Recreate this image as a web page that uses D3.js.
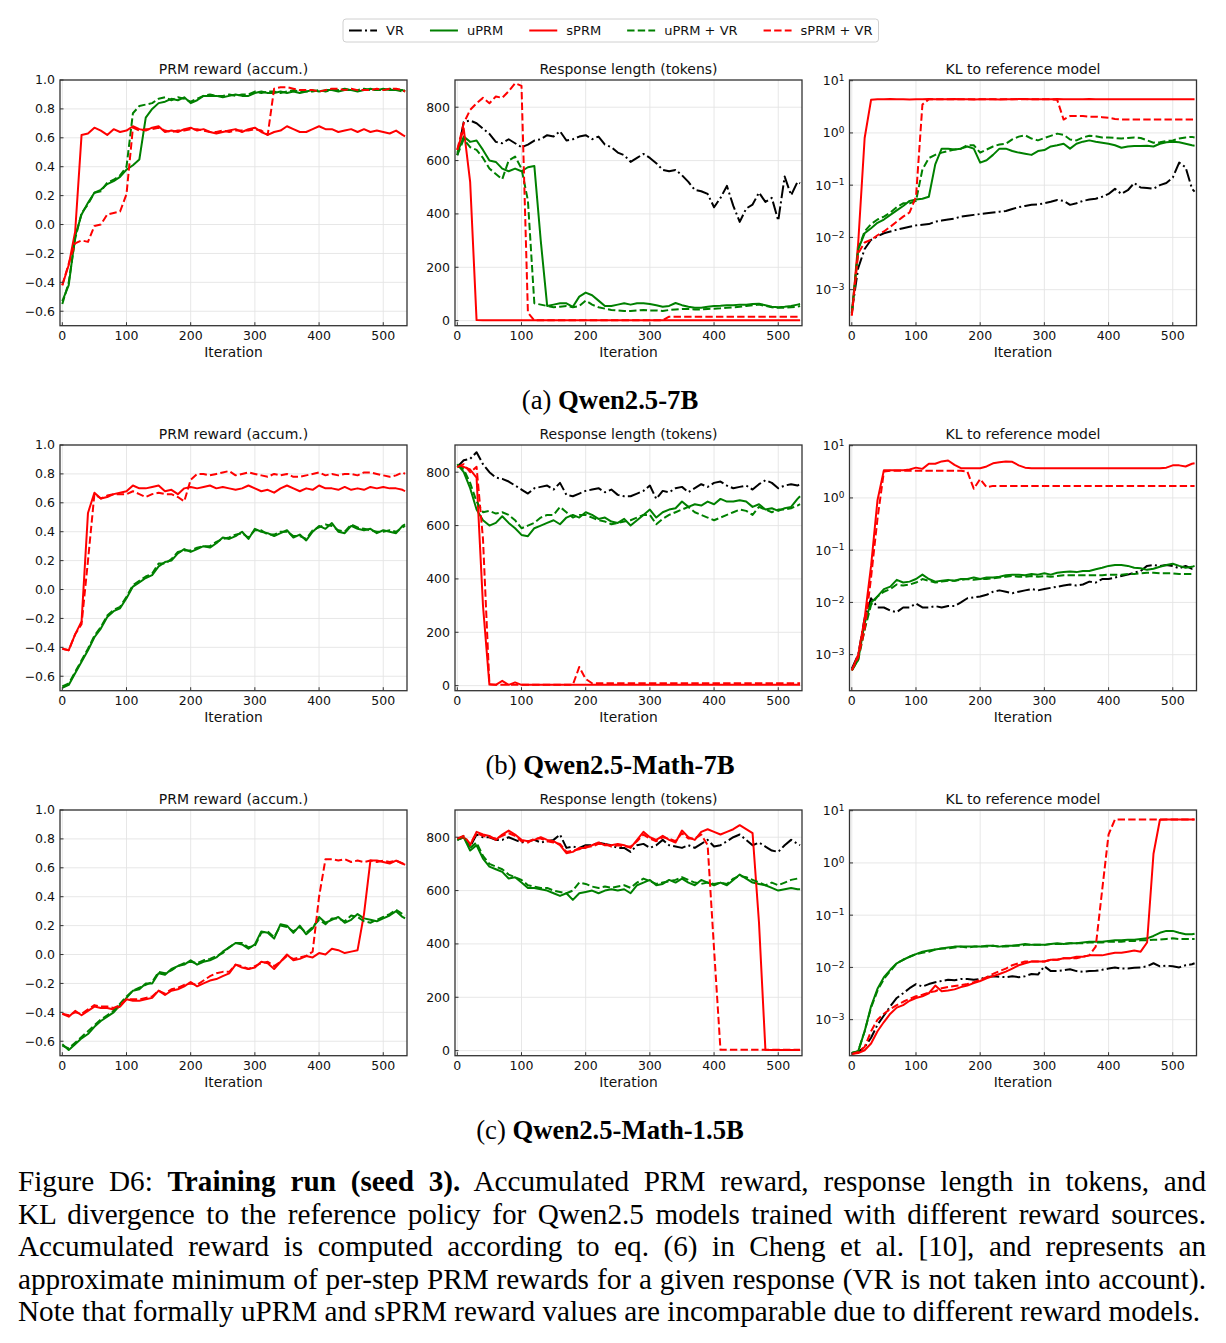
<!DOCTYPE html>
<html>
<head>
<meta charset="utf-8">
<script src="https://cdn.jsdelivr.net/npm/d3@7"></script>
<style>
  body { margin: 0; background: #fff; }
  #fig { position: relative; width: 1226px; height: 1343px; }
  svg text { font-family: "DejaVu Sans", sans-serif; fill: #111; }
  .cap {
    position: absolute; left: 18px; width: 1188px;
    font-family: "Liberation Serif", "Times New Roman", serif;
    font-size: 29.2px; line-height: 32.5px; color: #000;
    text-align: justify; text-align-last: justify;
  }
  .cap.last { text-align-last: left; }
</style>
</head>
<body>
<div id="fig"></div>
<script>
// iteration grid the values were read at
const iters = [0, 10, 20, 30, 40, 50, 60, 70, 80, 90,
  100, 110, 120, 130, 140, 150, 160, 170, 180, 190,
  200, 210, 220, 230, 240, 250, 260, 270, 280, 290,
  300, 310, 320, 330, 340, 350, 360, 370, 380, 390,
  400, 410, 420, 430, 440, 450, 460, 470, 480, 490,
  500, 510, 520, 530, 534];

const seriesNames = ['VR', 'uPRM', 'sPRM', 'uPRM + VR', 'sPRM + VR'];
const rowLabels = ['Qwen2.5-7B', 'Qwen2.5-Math-7B', 'Qwen2.5-Math-1.5B'];
const rowTags = ['(a) ', '(b) ', '(c) '];
const panelTitles = ['PRM reward (accum.)', 'Response length (tokens)', 'KL to reference model'];
const xTicks = [0, 100, 200, 300, 400, 500];
const rewardTicks = [-0.6, -0.4, -0.2, 0.0, 0.2, 0.4, 0.6, 0.8, 1.0];
const lengthTicks = [0, 200, 400, 600, 800];
const klTicks = [-3, -2, -1, 0, 1];

// ---- (a) Qwen2.5-7B ----
const rewA_u = [-0.53, -0.42, -0.08, 0.07, 0.15, 0.22, 0.24, 0.28, 0.30, 0.33,
  0.38, 0.41, 0.45, 0.74, 0.80, 0.84, 0.85, 0.87, 0.86, 0.88,
  0.84, 0.86, 0.89, 0.89, 0.89, 0.88, 0.89, 0.90, 0.89, 0.89,
  0.91, 0.92, 0.91, 0.91, 0.92, 0.91, 0.92, 0.91, 0.92, 0.93,
  0.92, 0.93, 0.93, 0.92, 0.93, 0.93, 0.92, 0.93, 0.94, 0.93,
  0.94, 0.93, 0.93, 0.93, 0.92];
const rewA_s = [-0.42, -0.28, -0.05, 0.62, 0.63, 0.67, 0.65, 0.62, 0.66, 0.64,
  0.65, 0.68, 0.66, 0.65, 0.67, 0.68, 0.64, 0.65, 0.64, 0.66,
  0.67, 0.65, 0.66, 0.64, 0.63, 0.64, 0.65, 0.66, 0.64, 0.66,
  0.67, 0.64, 0.62, 0.64, 0.65, 0.68, 0.66, 0.64, 0.64, 0.66,
  0.68, 0.66, 0.66, 0.64, 0.65, 0.66, 0.64, 0.66, 0.64, 0.65,
  0.64, 0.63, 0.65, 0.62, 0.61];
const rewA_uv = [-0.55, -0.40, -0.10, 0.08, 0.14, 0.22, 0.23, 0.29, 0.31, 0.34,
  0.40, 0.77, 0.82, 0.83, 0.84, 0.87, 0.88, 0.86, 0.88, 0.87,
  0.85, 0.87, 0.89, 0.90, 0.89, 0.89, 0.90, 0.89, 0.90, 0.90,
  0.92, 0.91, 0.92, 0.92, 0.91, 0.92, 0.93, 0.92, 0.92, 0.92,
  0.93, 0.92, 0.93, 0.93, 0.94, 0.93, 0.93, 0.94, 0.93, 0.93,
  0.93, 0.94, 0.93, 0.92, 0.93];
const rewA_sv = [-0.42, -0.27, -0.13, -0.11, -0.12, -0.01, 0.00, 0.07, 0.08, 0.09,
  0.21, 0.67, 0.65, 0.66, 0.66, 0.67, 0.65, 0.64, 0.65, 0.65,
  0.66, 0.66, 0.65, 0.64, 0.64, 0.65, 0.64, 0.65, 0.65, 0.65,
  0.66, 0.65, 0.62, 0.94, 0.95, 0.95, 0.94, 0.93, 0.93, 0.93,
  0.92, 0.93, 0.94, 0.94, 0.93, 0.94, 0.93, 0.93, 0.93, 0.94,
  0.93, 0.94, 0.94, 0.93, 0.92];

const lenA_vr = [620, 745, 750, 740, 720, 700, 670, 665, 680, 665,
  650, 660, 675, 680, 695, 690, 710, 675, 680, 690,
  695, 680, 690, 660, 650, 630, 620, 595, 610, 625,
  610, 590, 565, 560, 565, 545, 520, 490, 485, 475,
  425, 460, 505, 430, 370, 420, 435, 480, 445, 460,
  375, 540, 470, 520, 515];
const lenA_u = [630, 690, 670, 675, 640, 600, 595, 570, 560, 570,
  560, 575, 580, 300, 55, 60, 65, 65, 52, 90,
  105, 95, 75, 55, 55, 60, 65, 60, 65, 65,
  62, 58, 52, 55, 66, 58, 52, 48, 48, 52,
  55, 56, 58, 58, 60, 60, 62, 63, 58, 52,
  50, 52, 55, 60, 62];
const lenA_s = [640, 720, 520, 2, 1, 1, 1, 1, 1, 1,
  1, 1, 1, 1, 1, 1, 1, 1, 1, 1,
  1, 1, 1, 1, 1, 1, 1, 1, 1, 1,
  1, 1, 1, 1, 1, 1, 1, 1, 1, 1,
  1, 1, 1, 1, 1, 1, 1, 1, 1, 1,
  1, 1, 1, 1, 1];
const lenA_uv = [620, 680, 650, 640, 610, 570, 550, 530, 600, 615,
  570, 450, 65, 60, 55, 50, 52, 55, 50, 55,
  75, 60, 50, 45, 40, 38, 36, 36, 38, 40,
  38, 38, 36, 40, 42, 44, 44, 42, 42, 44,
  45, 46, 48, 50, 52, 55, 58, 60, 55, 50,
  48, 48, 50, 52, 55];
const lenA_sv = [640, 740, 790, 815, 835, 815, 840, 835, 860, 890,
  880, 30, 1, 1, 1, 1, 1, 1, 1, 1,
  1, 1, 1, 1, 1, 1, 1, 1, 1, 1,
  1, 1, 1, 15, 15, 15, 15, 15, 15, 15,
  15, 15, 15, 15, 15, 15, 15, 15, 15, 15,
  15, 15, 15, 15, 15];

const klA_vr = [3.8e-4, 2.6e-3, 6e-3, 9e-3, 0.0105, 0.012, 0.013, 0.014, 0.015, 0.016,
  0.017, 0.0175, 0.018, 0.020, 0.021, 0.022, 0.023, 0.025, 0.026, 0.027,
  0.028, 0.029, 0.030, 0.031, 0.032, 0.035, 0.038, 0.040, 0.042, 0.043,
  0.045, 0.048, 0.052, 0.050, 0.042, 0.045, 0.050, 0.053, 0.055, 0.060,
  0.068, 0.085, 0.068, 0.080, 0.11, 0.09, 0.088, 0.085, 0.10, 0.11,
  0.14, 0.27, 0.22, 0.085, 0.075];
const klA_u = [3.5e-4, 6e-3, 0.012, 0.015, 0.019, 0.022, 0.027, 0.033, 0.040, 0.050,
  0.053, 0.055, 0.060, 0.25, 0.50, 0.50, 0.48, 0.50, 0.55, 0.50,
  0.27, 0.30, 0.38, 0.50, 0.50, 0.45, 0.42, 0.40, 0.38, 0.45,
  0.47, 0.55, 0.58, 0.62, 0.50, 0.62, 0.68, 0.72, 0.68, 0.65,
  0.62, 0.58, 0.52, 0.55, 0.56, 0.56, 0.57, 0.55, 0.62, 0.66,
  0.68, 0.66, 0.62, 0.58, 0.57];
const klA_s = [3.2e-4, 0.008, 0.8, 4.3, 4.4, 4.4, 4.45, 4.4, 4.4, 4.35,
  4.4, 4.4, 4.45, 4.4, 4.4, 4.4, 4.45, 4.4, 4.4, 4.35,
  4.4, 4.4, 4.4, 4.35, 4.4, 4.4, 4.45, 4.45, 4.4, 4.4,
  4.4, 4.4, 4.45, 4.4, 4.4, 4.4, 4.4, 4.45, 4.4, 4.4,
  4.4, 4.4, 4.4, 4.4, 4.4, 4.4, 4.4, 4.4, 4.4, 4.4,
  4.4, 4.4, 4.4, 4.4, 4.4];
const klA_uv = [3.5e-4, 6e-3, 0.013, 0.018, 0.022, 0.025, 0.030, 0.038, 0.045, 0.045,
  0.050, 0.20, 0.33, 0.38, 0.42, 0.45, 0.48, 0.50, 0.58, 0.58,
  0.42, 0.48, 0.55, 0.60, 0.62, 0.75, 0.85, 0.90, 0.78, 0.72,
  0.80, 0.88, 0.97, 0.92, 0.75, 0.72, 0.82, 0.88, 0.86, 0.82,
  0.82, 0.80, 0.78, 0.80, 0.82, 0.80, 0.72, 0.65, 0.66, 0.70,
  0.72, 0.78, 0.82, 0.84, 0.82];
const klA_sv = [3.2e-4, 5e-3, 0.008, 0.009, 0.011, 0.013, 0.016, 0.020, 0.025, 0.030,
  0.060, 3.5, 4.4, 4.4, 4.4, 4.4, 4.4, 4.4, 4.4, 4.4,
  4.4, 4.4, 4.4, 4.4, 4.4, 4.4, 4.4, 4.4, 4.4, 4.4,
  4.4, 4.4, 4.3, 1.8, 2.1, 2.1, 2.1, 2.05, 2.05, 2.0,
  1.95, 1.85, 1.8, 1.8, 1.8, 1.8, 1.8, 1.8, 1.8, 1.8,
  1.8, 1.8, 1.8, 1.8, 1.8];

// ---- (b) Qwen2.5-Math-7B ----
const rewB_u = [-0.68, -0.66, -0.58, -0.50, -0.42, -0.33, -0.27, -0.19, -0.15, -0.13,
  -0.06, 0.02, 0.05, 0.08, 0.10, 0.16, 0.19, 0.20, 0.25, 0.28,
  0.26, 0.28, 0.30, 0.29, 0.32, 0.36, 0.35, 0.37, 0.40, 0.35,
  0.42, 0.40, 0.39, 0.37, 0.39, 0.41, 0.36, 0.38, 0.34, 0.40,
  0.44, 0.42, 0.46, 0.40, 0.39, 0.44, 0.42, 0.41, 0.42, 0.39,
  0.41, 0.40, 0.39, 0.44, 0.45];
const rewB_s = [-0.41, -0.42, -0.31, -0.22, 0.53, 0.67, 0.63, 0.64, 0.66, 0.67,
  0.68, 0.72, 0.70, 0.70, 0.71, 0.72, 0.68, 0.69, 0.66, 0.70,
  0.71, 0.70, 0.71, 0.72, 0.70, 0.71, 0.70, 0.69, 0.70, 0.72,
  0.70, 0.68, 0.69, 0.67, 0.70, 0.72, 0.70, 0.68, 0.70, 0.69,
  0.72, 0.70, 0.70, 0.69, 0.71, 0.69, 0.70, 0.69, 0.71, 0.70,
  0.71, 0.70, 0.70, 0.69, 0.68];
const rewB_uv = [-0.67, -0.65, -0.57, -0.49, -0.41, -0.32, -0.26, -0.18, -0.14, -0.12,
  -0.05, 0.03, 0.06, 0.09, 0.11, 0.18, 0.18, 0.21, 0.26, 0.27,
  0.27, 0.29, 0.30, 0.30, 0.33, 0.35, 0.36, 0.38, 0.39, 0.36,
  0.41, 0.41, 0.38, 0.38, 0.40, 0.40, 0.37, 0.37, 0.35, 0.41,
  0.43, 0.45, 0.44, 0.41, 0.40, 0.45, 0.43, 0.42, 0.41, 0.40,
  0.40, 0.41, 0.40, 0.43, 0.44];
const rewB_sv = [-0.41, -0.42, -0.31, -0.24, 0.20, 0.66, 0.63, 0.65, 0.66, 0.66,
  0.66, 0.68, 0.66, 0.64, 0.66, 0.67, 0.66, 0.66, 0.64, 0.61,
  0.76, 0.80, 0.80, 0.79, 0.80, 0.81, 0.82, 0.79, 0.80, 0.81,
  0.80, 0.79, 0.78, 0.80, 0.79, 0.80, 0.78, 0.78, 0.79, 0.80,
  0.81, 0.79, 0.80, 0.79, 0.80, 0.80, 0.79, 0.81, 0.81, 0.80,
  0.79, 0.78, 0.79, 0.81, 0.80];

const lenB_vr = [820, 845, 850, 875, 830, 800, 780, 775, 765, 750,
  735, 720, 740, 745, 750, 735, 760, 715, 710, 720,
  730, 735, 740, 725, 735, 715, 710, 710, 720, 730,
  750, 700, 730, 725, 740, 745, 725, 740, 755, 745,
  760, 765, 750, 740, 745, 750, 735, 755, 770, 760,
  740, 750, 755, 750, 755];
const lenB_u = [830, 800, 740, 660, 620, 600, 610, 635, 610, 590,
  565, 560, 590, 600, 610, 620, 605, 630, 640, 630,
  650, 640, 625, 630, 615, 610, 625, 600, 620, 640,
  660, 630, 650, 660, 665, 690, 670, 680, 675, 690,
  680, 700, 690, 690, 695, 690, 670, 680, 660, 665,
  655, 665, 670, 700, 710];
const lenB_s = [820, 820, 810, 780, 300, 4, 3, 18, 3, 12,
  3, 3, 3, 3, 3, 3, 3, 3, 3, 3,
  3, 3, 3, 3, 3, 3, 3, 3, 3, 3,
  3, 3, 3, 3, 3, 3, 3, 3, 3, 3,
  3, 3, 3, 3, 3, 3, 3, 3, 3, 3,
  3, 3, 3, 3, 3];
const lenB_uv = [825, 810, 760, 690, 650, 655, 645, 650, 640, 620,
  590, 600, 610, 630, 640, 640, 670, 650, 630, 640,
  640, 630, 620, 615, 605, 610, 615, 620, 630, 640,
  640, 605, 625, 640, 650, 660, 670, 650, 640, 630,
  620, 630, 640, 650, 660, 655, 640, 670, 660, 650,
  660, 660, 665, 675, 680];
const lenB_sv = [820, 830, 800, 820, 550, 5, 3, 3, 3, 3,
  3, 3, 3, 3, 3, 3, 3, 3, 3, 70,
  25, 9, 9, 9, 9, 9, 9, 9, 9, 9,
  9, 9, 9, 9, 9, 9, 9, 9, 9, 9,
  9, 9, 9, 9, 9, 9, 9, 9, 9, 9,
  9, 9, 9, 9, 9];

const klB_vr = [5.4e-4, 1e-3, 5e-3, 0.012, 0.008, 0.008, 0.007, 0.0065, 0.008, 0.008,
  0.0095, 0.008, 0.008, 0.0085, 0.008, 0.0085, 0.0085, 0.010, 0.012, 0.0125,
  0.013, 0.014, 0.016, 0.017, 0.016, 0.015, 0.016, 0.017, 0.018, 0.017,
  0.018, 0.019, 0.020, 0.021, 0.022, 0.021, 0.022, 0.025, 0.024, 0.028,
  0.028, 0.030, 0.032, 0.034, 0.037, 0.040, 0.050, 0.052, 0.050, 0.052,
  0.050, 0.045, 0.050, 0.044, 0.045];
const klB_u = [5e-4, 8e-4, 4e-3, 0.010, 0.013, 0.018, 0.020, 0.027, 0.024, 0.025,
  0.028, 0.034, 0.028, 0.025, 0.026, 0.027, 0.026, 0.028, 0.028, 0.030,
  0.028, 0.030, 0.030, 0.031, 0.033, 0.034, 0.034, 0.033, 0.035, 0.034,
  0.036, 0.034, 0.037, 0.038, 0.039, 0.038, 0.040, 0.040, 0.043, 0.046,
  0.050, 0.052, 0.052, 0.050, 0.046, 0.045, 0.042, 0.044, 0.048, 0.052,
  0.055, 0.050, 0.046, 0.048, 0.050];
const klB_s = [5e-4, 1e-3, 5e-3, 0.05, 0.9, 3.4, 3.4, 3.4, 3.4, 3.5,
  3.8, 3.6, 4.5, 4.5, 5.0, 5.2, 4.3, 3.7, 3.7, 3.7,
  3.7, 4.0, 4.6, 4.8, 5.0, 4.9, 4.2, 3.8, 3.7, 3.7,
  3.7, 3.7, 3.7, 3.7, 3.7, 3.7, 3.7, 3.7, 3.7, 3.7,
  3.7, 3.7, 3.7, 3.7, 3.7, 3.7, 3.7, 3.7, 3.7, 3.8,
  4.2, 4.2, 4.0, 4.5, 4.6];
const klB_uv = [5e-4, 8e-4, 3e-3, 0.009, 0.013, 0.016, 0.018, 0.022, 0.021, 0.022,
  0.024, 0.028, 0.026, 0.024, 0.025, 0.026, 0.026, 0.027, 0.028, 0.027,
  0.028, 0.028, 0.029, 0.030, 0.031, 0.032, 0.031, 0.031, 0.032, 0.031,
  0.032, 0.031, 0.032, 0.033, 0.033, 0.033, 0.033, 0.033, 0.033, 0.033,
  0.034, 0.034, 0.034, 0.035, 0.035, 0.036, 0.037, 0.037, 0.036, 0.036,
  0.036, 0.035, 0.035, 0.035, 0.035];
const klB_sv = [5e-4, 9e-4, 3e-3, 0.03, 0.4, 3.2, 3.3, 3.3, 3.3, 3.3,
  3.3, 3.3, 3.3, 3.3, 3.3, 3.3, 3.3, 3.3, 3.2, 1.5,
  2.3, 1.6, 1.7, 1.7, 1.7, 1.7, 1.7, 1.7, 1.7, 1.7,
  1.7, 1.7, 1.7, 1.7, 1.7, 1.7, 1.7, 1.7, 1.7, 1.7,
  1.7, 1.7, 1.7, 1.7, 1.7, 1.7, 1.7, 1.7, 1.7, 1.7,
  1.7, 1.7, 1.7, 1.7, 1.7];

// ---- (c) Qwen2.5-Math-1.5B ----
const rewC_u = [-0.62, -0.66, -0.62, -0.58, -0.55, -0.50, -0.46, -0.43, -0.40, -0.35,
  -0.30, -0.25, -0.24, -0.20, -0.20, -0.13, -0.14, -0.10, -0.08, -0.07,
  -0.04, -0.07, -0.05, -0.04, -0.02, 0.02, 0.05, 0.08, 0.07, 0.04,
  0.07, 0.16, 0.15, 0.11, 0.21, 0.20, 0.15, 0.20, 0.14, 0.18,
  0.26, 0.22, 0.24, 0.26, 0.22, 0.24, 0.28, 0.25, 0.24, 0.23,
  0.25, 0.27, 0.30, 0.26, 0.25];
const rewC_s = [-0.41, -0.43, -0.39, -0.42, -0.39, -0.36, -0.37, -0.37, -0.38, -0.36,
  -0.31, -0.32, -0.32, -0.31, -0.30, -0.25, -0.28, -0.25, -0.24, -0.22,
  -0.19, -0.22, -0.20, -0.18, -0.17, -0.15, -0.13, -0.07, -0.09, -0.10,
  -0.09, -0.05, -0.06, -0.10, -0.05, 0.00, -0.04, -0.03, -0.01, -0.02,
  0.01, 0.00, 0.04, 0.03, 0.01, 0.02, 0.03, 0.28, 0.65, 0.65,
  0.64, 0.63, 0.65, 0.63, 0.62];
const rewC_uv = [-0.63, -0.65, -0.61, -0.57, -0.53, -0.49, -0.45, -0.42, -0.39, -0.34,
  -0.29, -0.25, -0.23, -0.21, -0.19, -0.12, -0.13, -0.11, -0.08, -0.06,
  -0.05, -0.06, -0.04, -0.03, -0.01, 0.01, 0.05, 0.08, 0.08, 0.05,
  0.06, 0.15, 0.16, 0.12, 0.20, 0.19, 0.16, 0.19, 0.15, 0.19,
  0.24, 0.21, 0.25, 0.25, 0.23, 0.27, 0.26, 0.23, 0.22, 0.24,
  0.26, 0.28, 0.31, 0.28, 0.27];
const rewC_sv = [-0.41, -0.42, -0.40, -0.41, -0.38, -0.35, -0.36, -0.36, -0.37, -0.35,
  -0.31, -0.31, -0.31, -0.30, -0.29, -0.25, -0.27, -0.24, -0.23, -0.21,
  -0.20, -0.21, -0.18, -0.15, -0.13, -0.12, -0.12, -0.07, -0.08, -0.10,
  -0.08, -0.06, -0.05, -0.08, -0.05, -0.01, -0.03, -0.02, -0.01, 0.02,
  0.40, 0.66, 0.66, 0.65, 0.66, 0.64, 0.65, 0.64, 0.65, 0.64,
  0.65, 0.64, 0.65, 0.63, 0.62];

const lenC_vr = [790, 800, 765, 810, 800, 800, 790, 790, 800, 790,
  780, 785, 790, 780, 785, 790, 810, 760, 765, 760,
  770, 770, 780, 775, 770, 760, 760, 745, 770, 775,
  760, 770, 790, 770, 765, 760, 770, 760, 775, 790,
  765, 770, 785, 800, 810, 790, 770, 780, 765, 750,
  745, 770, 790, 775, 770];
const lenC_u = [790, 800, 750, 770, 720, 690, 680, 670, 645, 650,
  630, 610, 610, 605, 600, 590, 580, 590, 565, 590,
  595, 600, 590, 600, 605, 600, 605, 590, 620, 630,
  640, 620, 625, 640, 630, 645, 630, 620, 640, 630,
  620, 630, 620, 640, 660, 645, 630, 625, 620, 610,
  600, 605, 610, 605, 605];
const lenC_s = [795, 800, 770, 820, 810, 805, 790, 810, 825, 810,
  790, 785, 790, 800, 790, 785, 770, 740, 745, 760,
  760, 770, 780, 770, 770, 775, 770, 760, 790, 820,
  800, 790, 805, 790, 780, 825, 800, 790, 820, 830,
  820, 810, 820, 830, 845, 830, 815, 480, 3, 2,
  2, 2, 2, 2, 2];
const lenC_uv = [790, 805, 760, 780, 730, 700, 690, 680, 660, 650,
  640, 620, 615, 610, 610, 600, 595, 590, 600, 630,
  625, 615, 610, 615, 610, 615, 620, 610, 630, 645,
  635, 625, 630, 635, 640, 650, 640, 630, 625, 630,
  625, 630, 625, 645, 655, 650, 640, 630, 620, 630,
  620, 630, 640, 645, 640];
const lenC_sv = [795, 805, 775, 815, 805, 800, 795, 805, 815, 805,
  785, 780, 795, 795, 785, 780, 775, 745, 750, 755,
  765, 765, 775, 775, 765, 770, 765, 765, 785, 810,
  795, 785, 800, 795, 785, 815, 795, 795, 810, 770,
  380, 3, 3, 3, 3, 3, 3, 3, 3, 3,
  3, 3, 3, 3, 3];

const klC_vr = [2.3e-4, 2.4e-4, 3e-4, 4.5e-4, 8e-4, 1.2e-3, 1.8e-3, 2.6e-3, 3.2e-3, 4e-3,
  4.8e-3, 4.3e-3, 4.8e-3, 5.2e-3, 5.5e-3, 5.8e-3, 5.7e-3, 6e-3, 6e-3, 5.8e-3,
  6e-3, 6.5e-3, 6.8e-3, 6.6e-3, 6.5e-3, 6.8e-3, 6.5e-3, 6.8e-3, 7.5e-3, 7.3e-3,
  0.0105, 8.5e-3, 8.5e-3, 8.8e-3, 9.2e-3, 8.5e-3, 8.2e-3, 8.5e-3, 8.6e-3, 9e-3,
  9.5e-3, 0.010, 9.5e-3, 9.5e-3, 9.8e-3, 0.010, 0.0105, 0.012, 0.0105, 0.0108,
  0.0105, 0.010, 0.011, 0.0115, 0.012];
const klC_u = [2.3e-4, 2.5e-4, 6e-4, 1.8e-3, 3.9e-3, 6.5e-3, 9e-3, 0.012, 0.014, 0.016,
  0.018, 0.020, 0.021, 0.022, 0.023, 0.024, 0.025, 0.025, 0.025, 0.025,
  0.025, 0.026, 0.026, 0.025, 0.026, 0.026, 0.027, 0.028, 0.027, 0.027,
  0.027, 0.028, 0.029, 0.028, 0.029, 0.029, 0.030, 0.031, 0.031, 0.031,
  0.032, 0.033, 0.033, 0.034, 0.034, 0.035, 0.036, 0.040, 0.046, 0.050,
  0.050, 0.046, 0.043, 0.043, 0.044];
const klC_s = [2.2e-4, 2.3e-4, 2.6e-4, 3.5e-4, 6e-4, 9e-4, 1.3e-3, 1.7e-3, 1.9e-3, 2.3e-3,
  2.6e-3, 2.8e-3, 3.2e-3, 4.5e-3, 3.5e-3, 3.6e-3, 3.8e-3, 4.2e-3, 4.5e-3, 5e-3,
  5.5e-3, 6.2e-3, 6.8e-3, 7.5e-3, 8.3e-3, 9.5e-3, 0.011, 0.012, 0.013, 0.013,
  0.013, 0.014, 0.014, 0.015, 0.015, 0.016, 0.016, 0.017, 0.017, 0.017,
  0.018, 0.019, 0.019, 0.020, 0.021, 0.020, 0.030, 1.5, 6.7, 6.8,
  6.8, 6.8, 6.8, 6.8, 6.8];
const klC_uv = [2.3e-4, 2.5e-4, 6e-4, 1.7e-3, 3.6e-3, 6e-3, 8.5e-3, 0.012, 0.014, 0.016,
  0.018, 0.019, 0.020, 0.022, 0.023, 0.023, 0.024, 0.025, 0.024, 0.025,
  0.025, 0.025, 0.026, 0.025, 0.025, 0.026, 0.026, 0.027, 0.027, 0.027,
  0.027, 0.028, 0.028, 0.028, 0.029, 0.029, 0.029, 0.030, 0.030, 0.030,
  0.031, 0.031, 0.031, 0.032, 0.032, 0.033, 0.033, 0.034, 0.034, 0.035,
  0.036, 0.035, 0.035, 0.035, 0.035];
const klC_sv = [2.2e-4, 2.4e-4, 3e-4, 6e-4, 1e-3, 1.3e-3, 1.6e-3, 1.9e-3, 2.2e-3, 2.5e-3,
  2.8e-3, 3e-3, 3.3e-3, 3.5e-3, 4e-3, 4.2e-3, 4.4e-3, 4.6e-3, 4.8e-3, 5.2e-3,
  5.8e-3, 6.5e-3, 7.5e-3, 8.5e-3, 9.5e-3, 0.011, 0.012, 0.013, 0.013, 0.013,
  0.013, 0.014, 0.014, 0.015, 0.015, 0.015, 0.016, 0.017, 0.025, 0.30,
  3.5, 6.8, 6.8, 6.8, 6.8, 6.8, 6.8, 6.8, 6.8, 6.8,
  6.8, 6.8, 6.8, 6.8, 6.8];

// rows of panels: [reward, length, kl], each a list of series in plotting order
const rows = [
  [
    {'uPRM': rewA_u, 'sPRM': rewA_s, 'uPRM + VR': rewA_uv, 'sPRM + VR': rewA_sv},
    {'VR': lenA_vr, 'uPRM': lenA_u, 'sPRM': lenA_s, 'uPRM + VR': lenA_uv, 'sPRM + VR': lenA_sv},
    {'VR': klA_vr, 'uPRM': klA_u, 'sPRM': klA_s, 'uPRM + VR': klA_uv, 'sPRM + VR': klA_sv}
  ],
  [
    {'uPRM': rewB_u, 'sPRM': rewB_s, 'uPRM + VR': rewB_uv, 'sPRM + VR': rewB_sv},
    {'VR': lenB_vr, 'uPRM': lenB_u, 'sPRM': lenB_s, 'uPRM + VR': lenB_uv, 'sPRM + VR': lenB_sv},
    {'VR': klB_vr, 'uPRM': klB_u, 'sPRM': klB_s, 'uPRM + VR': klB_uv, 'sPRM + VR': klB_sv}
  ],
  [
    {'uPRM': rewC_u, 'sPRM': rewC_s, 'uPRM + VR': rewC_uv, 'sPRM + VR': rewC_sv},
    {'VR': lenC_vr, 'uPRM': lenC_u, 'sPRM': lenC_s, 'uPRM + VR': lenC_uv, 'sPRM + VR': lenC_sv},
    {'VR': klC_vr, 'uPRM': klC_u, 'sPRM': klC_s, 'uPRM + VR': klC_uv, 'sPRM + VR': klC_sv}
  ]
];

const style = {
  'VR': {color: '#000000', dash: '12.8,3.2,2,3.2'},
  'uPRM': {color: '#008000', dash: null},
  'sPRM': {color: '#ff0000', dash: null},
  'uPRM + VR': {color: '#008000', dash: '7.4,3.2'},
  'sPRM + VR': {color: '#ff0000', dash: '7.4,3.2'}
};

const W = 1226, H = 1343;
const colX = [60, 455, 849.5];
const rowY = [80, 445, 810];
const pw = 347, ph = 245.7;

const svg = d3.select('#fig').append('svg')
  .attr('width', W).attr('height', H)
  .style('position', 'absolute').style('left', 0).style('top', 0);

// legend
const legend = svg.append('g');
const legBox = legend.append('rect')
  .attr('x', 343).attr('y', 19).attr('height', 23).attr('rx', 3)
  .attr('fill', '#fff').attr('stroke', '#d0d0d0').attr('stroke-width', 1);
let lx = 349;
seriesNames.forEach(name => {
  legend.append('line')
    .attr('x1', lx).attr('x2', lx + 28).attr('y1', 30.5).attr('y2', 30.5)
    .attr('stroke', style[name].color).attr('stroke-width', 2)
    .attr('stroke-dasharray', style[name].dash);
  const t = legend.append('text')
    .attr('x', lx + 37).attr('y', 35)
    .style('font-size', '13px')
    .text(name);
  lx += 37 + t.node().getComputedTextLength() + 26;
});
legBox.attr('width', lx - 26 + 6 - 343);

const xScale = d3.scaleLinear().domain([-3.6, 537]).range([0, pw]);

rows.forEach((row, r) => {
  row.forEach((data, c) => {
    const g = svg.append('g').attr('transform', `translate(${colX[c]},${rowY[r]})`);
    let y, ticks;
    if (c === 0) {
      y = d3.scaleLinear().domain([-0.7, 1.0]).range([ph, 0]);
      ticks = rewardTicks;
    } else if (c === 1) {
      y = d3.scaleLinear().domain([-19, 902]).range([ph, 0]);
      ticks = lengthTicks;
    } else {
      y = d3.scaleLog().domain([Math.pow(10, -3.69), Math.pow(10, 1.013)]).range([ph, 0]);
      ticks = klTicks.map(e => Math.pow(10, e));
    }

    // grid
    g.append('g').selectAll('line').data(xTicks).join('line')
      .attr('x1', d => xScale(d)).attr('x2', d => xScale(d))
      .attr('y1', 0).attr('y2', ph)
      .attr('stroke', '#e4e4e4').attr('stroke-width', 0.9);
    g.append('g').selectAll('line').data(ticks).join('line')
      .attr('x1', 0).attr('x2', pw)
      .attr('y1', d => y(d)).attr('y2', d => y(d))
      .attr('stroke', '#e4e4e4').attr('stroke-width', 0.9);

    // lines
    const clipId = `clip-${r}-${c}`;
    g.append('clipPath').attr('id', clipId)
      .append('rect').attr('width', pw).attr('height', ph);
    const lines = g.append('g').attr('clip-path', `url(#${clipId})`);
    const line = d3.line().x((d, i) => xScale(iters[i])).y(d => y(d));
    seriesNames.filter(n => data[n]).forEach(n => {
      lines.append('path')
        .attr('d', line(data[n]))
        .attr('fill', 'none')
        .attr('stroke', style[n].color)
        .attr('stroke-width', 2)
        .attr('stroke-linejoin', 'round')
        .attr('stroke-dasharray', style[n].dash);
    });

    // frame
    g.append('rect').attr('width', pw).attr('height', ph)
      .attr('fill', 'none').attr('stroke', '#333').attr('stroke-width', 1.3);

    // x ticks
    const xt = g.append('g').selectAll('g').data(xTicks).join('g')
      .attr('transform', d => `translate(${xScale(d)},${ph})`);
    xt.append('line').attr('y1', 0).attr('y2', -3.5).attr('stroke', '#333');
    xt.append('text').attr('y', 14.5).attr('text-anchor', 'middle')
      .style('font-size', '12.5px').text(d => d);

    // y ticks
    const yt = g.append('g').selectAll('g').data(ticks).join('g')
      .attr('transform', d => `translate(0,${y(d)})`);
    yt.append('line').attr('x1', 0).attr('x2', 3.5).attr('stroke', '#333');
    const labels = yt.append('text').attr('x', -5).attr('dy', '0.35em')
      .attr('text-anchor', 'end').style('font-size', '12.5px');
    if (c === 2) {
      labels.each(function (d, i) {
        const t = d3.select(this);
        t.append('tspan').text('10');
        t.append('tspan').attr('dy', '-0.45em').style('font-size', '9px')
          .text(d3.format('d')(klTicks[i]).replace('-', '\u2212'));
      });
    } else if (c === 0) {
      labels.text(d => d3.format('.1f')(d));
    } else {
      labels.text(d => d);
    }

    // title + x label
    g.append('text').attr('x', pw / 2).attr('y', -6)
      .attr('text-anchor', 'middle').style('font-size', '14px')
      .text(panelTitles[c]);
    g.append('text').attr('x', pw / 2).attr('y', ph + 31.5)
      .attr('text-anchor', 'middle').style('font-size', '13.8px')
      .text('Iteration');
  });

  // sub caption
  const sc = svg.append('text')
    .attr('x', 610).attr('y', rowY[r] + 329)
    .attr('text-anchor', 'middle')
    .style('font-family', '"Liberation Serif", "Times New Roman", serif')
    .style('font-size', '26.7px')
    .style('fill', '#000');
  sc.append('tspan').text(rowTags[r]);
  sc.append('tspan').style('font-weight', 'bold').text(rowLabels[r]);
});

// figure caption
const captionLines = [
  'Figure D6: <b>Training run (seed 3).</b> Accumulated PRM reward, response length in tokens, and',
  'KL divergence to the reference policy for Qwen2.5 models trained with different reward sources.',
  'Accumulated reward is computed according to eq. (6) in Cheng et al. [10], and represents an',
  'approximate minimum of per-step PRM rewards for a given response (VR is not taken into account).',
  'Note that formally uPRM and sPRM reward values are incomparable due to different reward models.'
];
d3.select('#fig').selectAll('div.cap').data(captionLines).join('div')
  .attr('class', (d, i) => i === captionLines.length - 1 ? 'cap last' : 'cap')
  .style('top', (d, i) => (1165 + i * 32.5) + 'px')
  .html(d => d);
</script>
</body>
</html>
